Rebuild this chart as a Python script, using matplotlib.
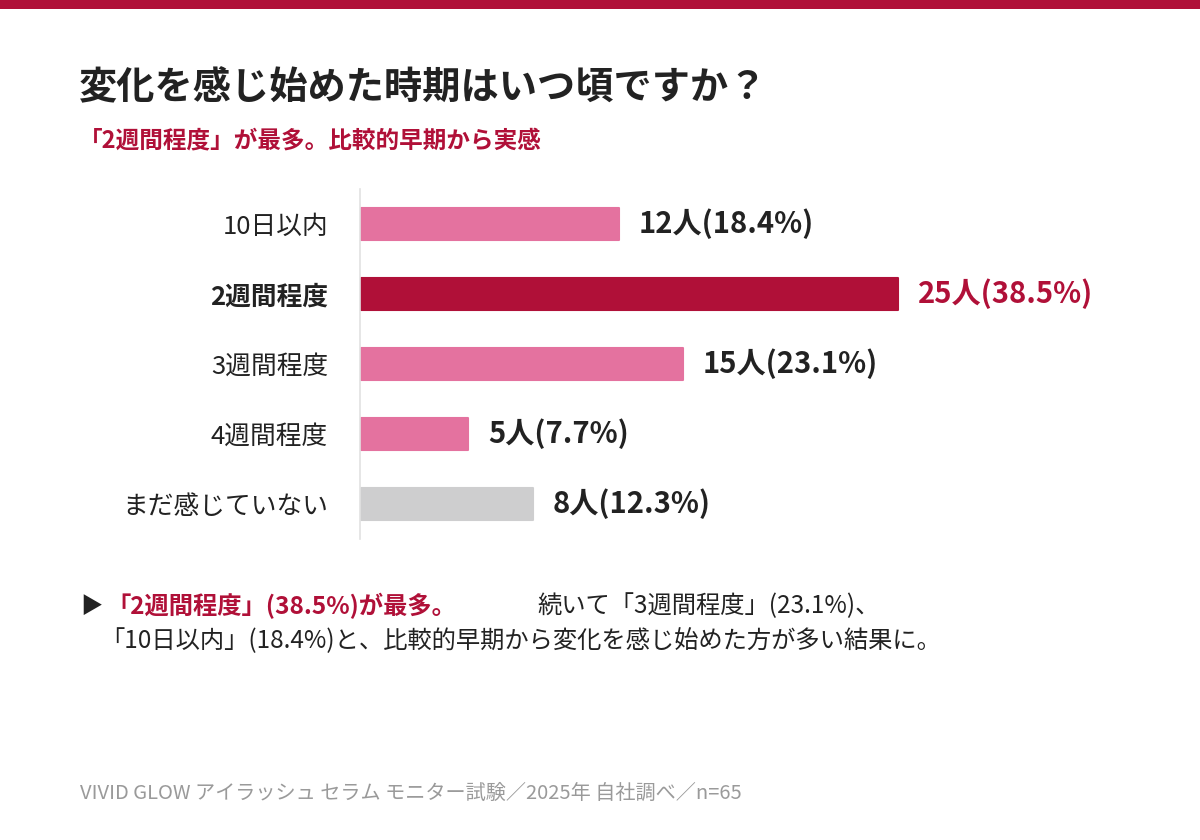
import matplotlib
matplotlib.use("Agg")
import matplotlib.pyplot as plt
from matplotlib.patches import Rectangle

plt.rcParams["font.family"] = ["Noto Sans CJK JP", "DejaVu Sans"]

# ===================== データ =====================
categories = ["10日以内", "2週間程度", "3週間程度", "4週間程度", "まだ感じていない"]
counts = [12, 25, 15, 5, 8]
percents = [18.4, 38.5, 23.1, 7.7, 12.3]
highlight = 1

title = "変化を感じ始めた時期はいつ頃ですか？"
subtitle = "「2週間程度」が最多。比較的早期から実感"
note_red = "「2週間程度」(38.5%)が最多。"
note_rest1 = "続いて「3週間程度」(23.1%)、"
note_line2 = "「10日以内」(18.4%)と、比較的早期から変化を感じ始めた方が多い結果に。"
footer = "VIVID GLOW アイラッシュ セラム モニター試験／2025年 自社調べ／n=65"

RED = "#B01038"
PINK = "#E4729F"
GRAY = "#CECECF"
DARK = "#222222"

W, H = 1200, 840
fig = plt.figure(figsize=(W / 100, H / 100), dpi=100)
fig.patch.set_facecolor("white")

# 上部の帯
fig.patches.append(Rectangle((0, 1 - 9 / H), 1, 9 / H, transform=fig.transFigure,
                             facecolor=RED, edgecolor="none"))

def fx(px):
    return px / W

def fy(py):
    return 1 - py / H

fig.text(fx(79), fy(88), title, fontsize=27.5, fontweight="bold", color=DARK, va="center")
fig.text(fx(79), fy(140), subtitle, fontsize=17, fontweight="bold", color=RED, va="center")

# ===================== 棒グラフ =====================
px_per_unit = 21.5
ax_left, ax_right = 360, 1160
ax_top, ax_bot = 189, 539
ax = fig.add_axes([fx(ax_left), fy(ax_bot), fx(ax_right - ax_left), (ax_bot - ax_top) / H])
ax.set_xlim(0, (ax_right - ax_left) / px_per_unit)
ax.set_ylim(len(categories) - 0.5, -0.5)

colors = []
for i, cat in enumerate(categories):
    if i == highlight:
        colors.append(RED)
    elif cat == "まだ感じていない":
        colors.append(GRAY)
    else:
        colors.append(PINK)

ypos = list(range(len(categories)))
ax.barh(ypos, counts, height=0.47, color=colors, edgecolor=colors,
        linewidth=1.5, joinstyle="round", left=0.03)

for i, (c, p) in enumerate(zip(counts, percents)):
    col = RED if i == highlight else DARK
    ax.text(c + 0.95, i, f"{c}人({p}%)", fontsize=21, fontweight="bold",
            color=col, va="center", ha="left")

ax.set_yticks(ypos)
ax.set_yticklabels(categories, fontsize=18.5, color=DARK)
for i, lab in enumerate(ax.get_yticklabels()):
    if i == highlight:
        lab.set_fontweight("bold")
ax.tick_params(axis="y", length=0, pad=23)
ax.set_xticks([])
for side in ["top", "right", "bottom"]:
    ax.spines[side].set_visible(False)
ax.spines["left"].set_color("#E2E2E2")
ax.spines["left"].set_linewidth(1.2)

# ===================== 注記 =====================
fig.text(fx(80), fy(606), "▶", fontsize=16, color=DARK, va="center")
fig.text(fx(106), fy(606), note_red, fontsize=17.5, fontweight="bold", color=RED, va="center")
fig.text(fx(537), fy(606), note_rest1, fontsize=17.5, color=DARK, va="center")
fig.text(fx(100), fy(641), note_line2, fontsize=17.5, color=DARK, va="center")

fig.text(fx(80), fy(793), footer, fontsize=14.5, color="#9A9A9A", va="center")

fig.savefig("out.png", dpi=100, facecolor="white")
